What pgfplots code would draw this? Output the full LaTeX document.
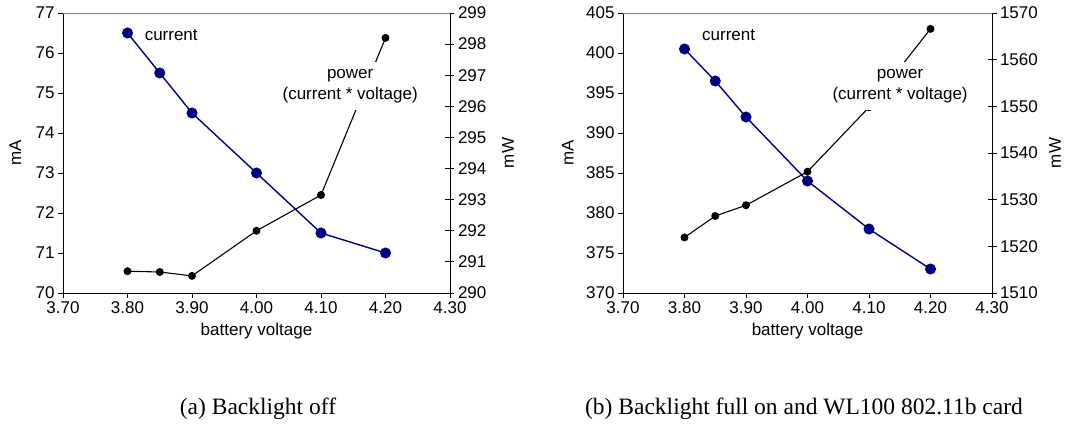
\documentclass[border=0pt]{standalone}
\usepackage{fontspec}
\setmainfont{Liberation Sans}
\newfontfamily\capfont{Liberation Serif}
\usepackage{pgfplots}
\pgfplotsset{compat=1.18}
\definecolor{navy}{RGB}{0,0,135}

\tikzset{lab/.style={fill=white, inner xsep=3pt, inner ysep=7pt, align=center, font=\fontsize{17}{21}\selectfont}}
\pgfplotsset{
  common/.style={
    scale only axis, height=280pt,
    xmin=3.7, xmax=4.3,
    font=\fontsize{17}{20}\selectfont,
    /pgf/number format/assume math mode=true,
    /pgf/number format/set thousands separator={},
    axis line style={-, line width=0.9pt, black},
    tick style={line width=0.9pt, black},
  },
  leftax/.style={common,
    axis x line*=bottom, axis y line*=left,
    tick align=outside, major tick length=5pt,
    xtick={3.7,3.8,3.9,4.0,4.1,4.2,4.3},
    xticklabel style={/pgf/number format/.cd, fixed, fixed zerofill, precision=2},
    xlabel={battery voltage},
    x label style={at={(axis description cs:0.5,-0.137)}, anchor=center},
  },
  rightax/.style={common,
    hide x axis, axis y line*=right,
    tick align=center, major tick length=9pt,
  },
  cur/.style={navy, line width=1.4pt, mark=*, mark size=4.8pt, mark options={solid, fill=navy, draw=navy}},
  pow/.style={black, line width=1.1pt, mark=*, mark size=3.4pt, mark options={solid, fill=black}},
}

\begin{document}
\begin{tikzpicture}
\useasboundingbox (0,0) rectangle (1065pt,426pt);

% ---------- (a) ----------
\begin{axis}[leftax, at={(63pt,133pt)}, anchor=south west, width=387pt,
  ymin=70, ymax=77, ytick={70,71,72,73,74,75,76,77},
  ylabel={mA}, y label style={at={(axis description cs:-0.123,0.5)}, anchor=center}]
\addplot[cur] coordinates {(3.80,76.5) (3.85,75.5) (3.90,74.5) (4.00,73.0) (4.10,71.5) (4.20,71.0)};
\node[lab, anchor=west] at (rel axis cs:0.203,0.921) {current};
\end{axis}
\begin{axis}[rightax, at={(63pt,133pt)}, anchor=south west, width=387pt,
  ymin=290, ymax=299, ytick={290,291,292,293,294,295,296,297,298,299},
  ylabel={mW}, y label style={at={(axis description cs:1.150,0.5)}, anchor=center}]
\addplot[pow] coordinates {(3.80,290.70) (3.85,290.675) (3.90,290.55) (4.00,292.0) (4.10,293.15) (4.20,298.2)};
\coordinate (pa) at (rel axis cs:0.742,0.739);
\draw[gray, line width=0.9pt] (rel axis cs:0,1) -- (rel axis cs:1,1);
\end{axis}
\node[lab] at (pa) {power\\(current * voltage)};

% ---------- (b) ----------
\begin{axis}[leftax, at={(623pt,133pt)}, anchor=south west, width=369pt,
  ymin=370, ymax=405, ytick={370,375,380,385,390,395,400,405},
  ylabel={mA}, y label style={at={(axis description cs:-0.150,0.5)}, anchor=center}]
\addplot[cur] coordinates {(3.80,400.5) (3.85,396.5) (3.90,392.0) (4.00,384.0) (4.10,378.0) (4.20,373.0)};
\node[lab, anchor=west] at (rel axis cs:0.206,0.921) {current};
\end{axis}
\begin{axis}[rightax, at={(623pt,133pt)}, anchor=south west, width=369pt,
  ymin=1510, ymax=1570, ytick={1510,1520,1530,1540,1550,1560,1570},
  ylabel={mW}, y label style={at={(axis description cs:1.171,0.5)}, anchor=center}]
\addplot[pow] coordinates {(3.80,1521.9) (3.85,1526.5) (3.90,1528.8) (4.00,1536.0) (4.10,1549.8) (4.20,1566.6)};
\coordinate (pb) at (rel axis cs:0.751,0.739);
\draw[gray, line width=0.9pt] (rel axis cs:0,1) -- (rel axis cs:1,1);
\end{axis}
\node[lab] at (pb) {power\\(current * voltage)};

\node[anchor=base, font=\capfont\fontsize{23.5}{27}\selectfont] at (258pt,12pt) {(a) Backlight off};
\node[anchor=base, font=\capfont\fontsize{23.5}{27}\selectfont] at (804pt,12pt) {(b) Backlight full on and WL100 802.11b card};
\end{tikzpicture}
\end{document}
